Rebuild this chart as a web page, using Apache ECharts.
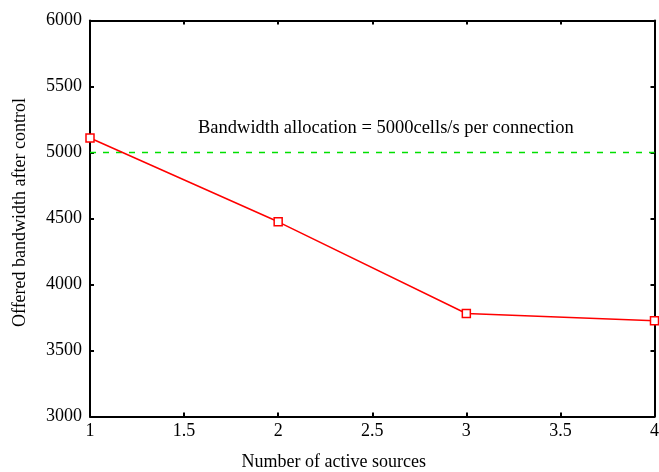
<!DOCTYPE html>
<html><head><meta charset="utf-8">
<script src="https://cdn.jsdelivr.net/npm/echarts@6/dist/echarts.min.js"></script>
<style>html,body{margin:0;padding:0;background:#fff}#c{width:659px;height:472px}</style>
</head><body><div id="c"></div>
<script>
const sources = [1, 2, 3, 4];
const offeredBandwidth = [5110, 4475, 3780, 3725];
const allocationX = [1, 4];
const allocationY = [5000, 5000];
const xTicks = [1, 1.5, 2, 2.5, 3, 3.5, 4];
const yTicks = [3000, 3500, 4000, 4500, 5000, 5500, 6000];
const annotation = 'Bandwidth allocation = 5000cells/s per connection';

const FONT = '"Liberation Serif", "DejaVu Serif", serif';
const FS = 18;
const chart = echarts.init(document.getElementById('c'));
const axBase = {
  axisLine: {show: true, onZero: false, lineStyle: {color: '#000', width: 2}},
  axisTick: {show: true, inside: true, length: 4, lineStyle: {color: '#000', width: 2}},
  splitLine: {show: false}
};
chart.setOption({
  animation: false,
  grid: {left: 90, right: 4.5, top: 20.5, bottom: 55.5, containLabel: false, outerBoundsMode: 'none'},
  xAxis: [
    Object.assign({}, axBase, {type: 'value', min: 1, max: 4, interval: 0.5, position: 'bottom',
      name: 'Number of active sources', nameLocation: 'middle', nameGap: 37,
      nameTextStyle: {fontFamily: FONT, fontSize: FS, color: '#000', padding: [0, 77, 0, 0]},
      axisLabel: {fontFamily: FONT, fontSize: FS, color: '#000', margin: 6,
        formatter: v => xTicks.includes(v) ? String(v) : ''}}),
    Object.assign({}, axBase, {type: 'value', min: 1, max: 4, interval: 0.5, position: 'top',
      axisLabel: {show: false}})
  ],
  yAxis: [
    Object.assign({}, axBase, {type: 'value', min: 3000, max: 6000, interval: 500, position: 'left',
      name: 'Offered bandwidth after control', nameLocation: 'middle', nameGap: 61, nameRotate: 90,
      nameTextStyle: {fontFamily: FONT, fontSize: FS, color: '#000', padding: [0, 0, 0, 12]},
      axisLabel: {fontFamily: FONT, fontSize: FS, color: '#000', margin: 8, padding: [4, 0, 0, 0],
        formatter: v => yTicks.includes(v) ? String(v) : ''}}),
    Object.assign({}, axBase, {type: 'value', min: 3000, max: 6000, interval: 500, position: 'right',
      axisLabel: {show: false}})
  ],
  series: [
    {type: 'line', xAxisIndex: 0, yAxisIndex: 0,
      data: allocationX.map((x, i) => [x, allocationY[i]]),
      symbol: 'none', lineStyle: {color: '#00e000', width: 1.5, type: [6, 7]}, z: 2},
    {type: 'line', xAxisIndex: 0, yAxisIndex: 0,
      data: sources.map((x, i) => [x, offeredBandwidth[i]]),
      symbol: 'rect', symbolSize: 8, showAllSymbol: true,
      itemStyle: {color: '#fff', borderColor: '#ff0000', borderWidth: 1.5},
      lineStyle: {color: '#ff0000', width: 1.5}, z: 3}
  ],
  graphic: [{type: 'text', left: 198, top: 119,
    style: {text: annotation, font: '18.5px ' + FONT, fill: '#000'}}]
});
</script></body></html>
